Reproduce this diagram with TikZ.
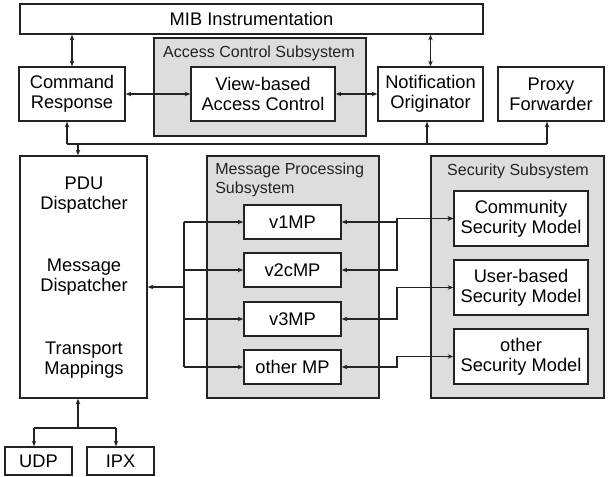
\documentclass[tikz,border=0pt]{standalone}
\usepackage{fontspec}
\setmainfont{Liberation Sans}
\usetikzlibrary{arrows.meta}
\definecolor{snmpGray}{RGB}{221, 221, 221}
\definecolor{snmpLine}{RGB}{35, 35, 35}

\begin{document}
\begin{tikzpicture}[x=0.025cm, y=-0.025cm,
    box/.style={rectangle, draw=snmpLine, line width=1pt, fill=white, align=center, inner sep=0pt, font=\fontsize{13}{14.5}\selectfont},
    subsys/.style={rectangle, draw=snmpLine, line width=1pt, fill=snmpGray, inner sep=0pt},
    label/.style={inner sep=0pt, font=\fontsize{11.4}{13.5}\selectfont, text=snmpLine},
    txt/.style={inner sep=0pt, align=center, font=\fontsize{13}{14.5}\selectfont},
    conn/.style={draw=snmpLine, line width=0.8pt, -{Stealth[length=4pt, width=3.2pt]}},
    conn2/.style={draw=snmpLine, line width=0.8pt, {Stealth[length=4pt, width=3.2pt]}-{Stealth[length=4pt, width=3.2pt]}},
    line/.style={draw=snmpLine, line width=0.8pt}]
                    \useasboundingbox (0,0) rectangle (615,476);
                    % top row
                    \node[box, minimum width=11.575cm, minimum height=0.75cm] (mib) at (251.5, 19) {MIB Instrumentation};
                    \node[subsys, minimum width=5.3cm, minimum height=2.45cm] (acs) at (260, 87) {};
                    \node[label] (acslabel) at (259, 53) {Access Control Subsystem};
                    \node[box, minimum width=2.65cm, minimum height=1.35cm] (cmd) at (72, 94) {Command\\Response};
                    \node[box, minimum width=3.6cm, minimum height=1.35cm] (view) at (263, 94) {View-based\\Access Control};
                    \node[box, minimum width=2.625cm, minimum height=1.35cm] (notif) at (430.5, 94) {Notification\\Originator};
                    \node[box, minimum width=2.65cm, minimum height=1.35cm] (proxy) at (551, 94) {Proxy\\Forwarder};

                    % dispatcher and subsystems
                    \node[box, minimum width=3.175cm, minimum height=6.05cm] (pdu) at (83.5, 277) {};
                    \node[txt] (pdutext) at (84, 195) {PDU\\Dispatcher};
                    \node[txt] (msgtext) at (84, 277) {Message\\Dispatcher};
                    \node[txt] (trtext) at (84, 360) {Transport\\Mappings};
                    \node[subsys, minimum width=4.3cm, minimum height=6.05cm] (mps) at (293, 277) {};
                    \node[label, anchor=west, align=left] (mpslabel) at (215, 180) {Message Processing\\Subsystem};
                    \node[subsys, minimum width=4.325cm, minimum height=6.05cm] (sec) at (517.5, 277) {};
                    \node[label] (seclabel) at (518, 171) {Security Subsystem};

                    \node[box, minimum width=2.425cm, minimum height=0.85cm] (v1) at (292.5, 222) {v1MP};
                    \node[box, minimum width=2.425cm, minimum height=0.85cm] (v2c) at (292.5, 270) {v2cMP};
                    \node[box, minimum width=2.425cm, minimum height=0.85cm] (v3) at (292.5, 319) {v3MP};
                    \node[box, minimum width=2.425cm, minimum height=0.85cm] (omp) at (292.5, 367) {other MP};

                    \node[box, minimum width=3.35cm, minimum height=1.375cm] (comm) at (521, 218.5) {Community\\Security Model};
                    \node[box, minimum width=3.35cm, minimum height=1.375cm] (usm) at (521, 287.5) {User-based\\Security Model};
                    \node[box, minimum width=3.35cm, minimum height=1.375cm] (osm) at (521, 356.5) {other\\Security Model};

                    % transports
                    \node[box, minimum width=1.675cm, minimum height=0.7cm] (udp) at (38.5, 461) {UDP};
                    \node[box, minimum width=1.675cm, minimum height=0.7cm] (ipx) at (120.5, 461) {IPX};

                    % helper points
                    \coordinate (busL) at (67, 144);
                    \coordinate (busP) at (78, 144);
                    \coordinate (busN) at (427, 144);
                    \coordinate (busR) at (547, 144);
                    \coordinate (mpbus) at (184, 287);
                    \coordinate (secbus) at (397, 0);
                    \coordinate (trbus) at (78, 428);
                    \coordinate (trL) at (34, 428);
                    \coordinate (trR) at (116, 428);

                    % connectors, top
                    \draw[conn2] (cmd.north) -- (cmd.north |- mib.south);
                    \draw[conn2] (notif.north) -- (notif.north |- mib.south);
                    \draw[conn2] (cmd.east) -- (view.west);
                    \draw[conn2] (view.east) -- (notif.west);
                    \draw[line] (busL) -- (busR);
                    \draw[conn] (busL) -- (busL |- cmd.south);
                    \draw[conn] (busN) -- (busN |- notif.south);
                    \draw[conn] (busR) -- (busR |- proxy.south);
                    \draw[conn] (busP) -- (busP |- pdu.north);

                    % connectors, message processing
                    \draw[conn] (mpbus) -- (pdu.east |- mpbus);
                    \draw[line] (mpbus |- v1) -- (mpbus |- omp);
                    \foreach \mp in {v1, v2c, v3, omp}
                        \draw[conn] (mpbus |- \mp) -- (\mp.west);
                    \draw[conn2] (v1.east) -- (secbus |- v1) |- (comm.west);
                    \draw[conn2] (v2c.east) -- (secbus |- v2c) |- (comm.west);
                    \draw[conn2] (v3.east) -- (secbus |- v3) |- (usm.west);
                    \draw[conn2] (omp.east) -- (secbus |- omp) |- (osm.west);

                    % connectors, transports
                    \draw[conn] (trbus) -- (trbus |- pdu.south);
                    \draw[line] (trL) -- (trR);
                    \draw[conn] (trL) -- (trL |- udp.north);
                    \draw[conn] (trR) -- (trR |- ipx.north);
                \end{tikzpicture}
\end{document}
